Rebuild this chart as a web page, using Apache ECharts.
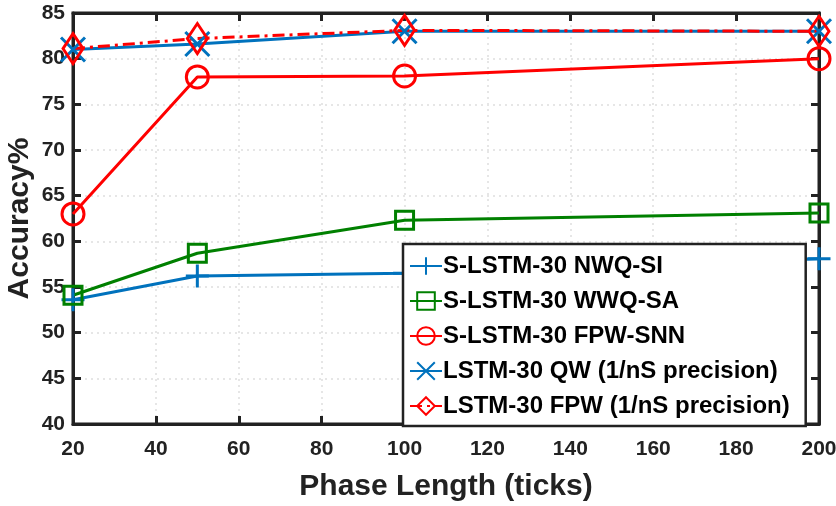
<!DOCTYPE html>
<html>
<head>
<meta charset="utf-8">
<script src="https://cdn.jsdelivr.net/npm/echarts@6/dist/echarts.min.js"></script>
<style>
  html, body { margin: 0; padding: 0; background: #fff; }
  #chart { width: 836px; height: 506px; }
</style>
</head>
<body>
<div id="chart"></div>
<script>
const phaseLength = [20, 50, 100, 200];
const nwqSi = [53.6, 56.2, 56.5, 58.1];
const wwqSa = [54.1, 58.7, 62.3, 63.1];
const fpwSnn = [63.0, 78.0, 78.1, 80.0];
const lstmQw = [81.0, 81.6, 83.0, 83.0];
const lstmFpw = [81.1, 82.2, 83.1, 83.0];

const FONT = '"Liberation Sans", Arial, sans-serif';
const BLUE = '#0072BD';
const GREEN = '#008000';
const RED = '#FF0000';

const PLUS = 'path://M0,-1L0,1M-1,0L1,0';
const CROSS = 'path://M-1,-1L1,1M-1,1L1,-1';
const DIAMOND = 'path://M0,-1L1,0L0,1L-1,0Z';

function pairs(ys) {
  return phaseLength.map((x, i) => [x, ys[i]]);
}

function lineSeries(name, ys, color, symbol, size, dash) {
  return {
    name: name,
    type: 'line',
    data: pairs(ys),
    symbol: symbol,
    symbolSize: size,
    showAllSymbol: true,
    lineStyle: { color: color, width: 3, type: dash || 'solid' },
    itemStyle: { color: 'rgba(255,255,255,0)', borderColor: color, borderWidth: 3 },
    emphasis: { disabled: true },
    z: 3
  };
}

const chart = echarts.init(document.getElementById('chart'), null, { renderer: 'canvas' });

const axisBase = {
  axisLine: { show: true, lineStyle: { color: '#222', width: 3 } },
  axisTick: { show: true, inside: true, length: 8, lineStyle: { color: '#222', width: 3 } }
};

chart.setOption({
  animation: false,
  backgroundColor: '#fff',
  grid: {
    left: 73, right: 17, top: 13, bottom: 82,
    containLabel: false, outerBoundsMode: 'none',
    show: true, borderColor: '#222', borderWidth: 3
  },
  xAxis: [
    Object.assign({
      type: 'value', min: 20, max: 200, interval: 20,
      name: 'Phase Length (ticks)', nameLocation: 'middle', nameGap: 48,
      nameMoveOverlap: false,
      nameTextStyle: { fontFamily: FONT, fontWeight: 'bold', fontSize: 30, color: '#222' },
      axisLabel: { fontFamily: FONT, fontWeight: 'bold', fontSize: 21, color: '#222', margin: 15 },
      splitLine: { show: true, lineStyle: { color: '#e6e6e6', width: 2, type: [2, 4] } }
    }, axisBase),
    Object.assign({
      type: 'value', min: 20, max: 200, interval: 20, position: 'top',
      axisLabel: { show: false }, splitLine: { show: false }
    }, axisBase)
  ],
  yAxis: [
    Object.assign({
      type: 'value', min: 40, max: 85, interval: 5,
      name: 'Accuracy%', nameLocation: 'middle', nameGap: 38,
      nameMoveOverlap: false,
      nameTextStyle: { fontFamily: FONT, fontWeight: 'bold', fontSize: 30, color: '#222' },
      axisLabel: { fontFamily: FONT, fontWeight: 'bold', fontSize: 21, color: '#222', margin: 8 },
      splitLine: { show: true, lineStyle: { color: '#e6e6e6', width: 2, type: [2, 4] } }
    }, axisBase),
    Object.assign({
      type: 'value', min: 40, max: 85, interval: 5, position: 'right',
      axisLabel: { show: false }, splitLine: { show: false }
    }, axisBase)
  ],
  legend: {
    orient: 'vertical',
    left: 403, top: 244,
    padding: [10, 16, 8, 6],
    itemGap: 11,
    itemWidth: 32, itemHeight: 22,
    backgroundColor: '#fff',
    borderColor: '#222', borderWidth: 2.5, borderRadius: 0,
    textStyle: { fontFamily: FONT, fontWeight: 'bold', fontSize: 24, color: '#000', padding: [0, 0, 0, -4] },
    selectedMode: false
  },
  series: [
    lineSeries('S-LSTM-30 NWQ-SI', nwqSi, BLUE, PLUS, 23),
    lineSeries('S-LSTM-30 WWQ-SA', wwqSa, GREEN, 'rect', 18),
    lineSeries('S-LSTM-30 FPW-SNN', fpwSnn, RED, 'circle', 22),
    lineSeries('LSTM-30 QW (1/nS precision)', lstmQw, BLUE, CROSS, 24),
    lineSeries('LSTM-30 FPW (1/nS precision)', lstmFpw, RED, DIAMOND, [20, 30], [12, 5, 3, 5])
  ]
});
</script>
</body>
</html>
